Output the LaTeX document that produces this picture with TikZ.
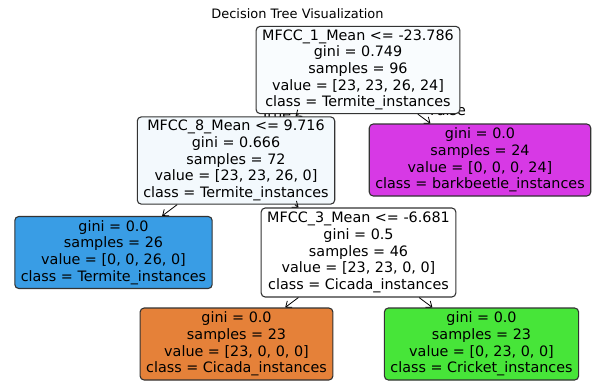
\documentclass[tikz,border=0pt]{standalone}
\usepackage{fontspec}
\setmainfont{DejaVu Sans}
\usetikzlibrary{arrows.meta}
\definecolor{rootfill}{HTML}{F9FCFE}
\definecolor{midfill}{HTML}{F3F9FD}
\definecolor{cicada}{HTML}{E58139}
\definecolor{cricket}{HTML}{47E539}
\definecolor{termite}{HTML}{399DE5}
\definecolor{barkbeetle}{HTML}{D739E5}

\begin{document}
\begin{tikzpicture}[x=1bp,y=-1bp,
	treebox/.style={draw=black!80,line width=1.1bp,rounded corners=4bp,align=center,inner xsep=6bp,font=\fontsize{14.4}{16.7}\selectfont},
	splitbox/.style={treebox,minimum height=87bp},
	leafbox/.style={treebox,minimum height=72bp},
	edgelabel/.style={font=\fontsize{14.4}{16.7}\selectfont},
	arrow/.style={-{Straight Barb[length=5bp,width=8bp]},line width=0.8bp}]
\useasboundingbox (0,0) rectangle (592,381);

\node[font=\fontsize{13}{15}\selectfont] (title) at (297.5,14) {Decision Tree Visualization};

\node[edgelabel] (truelbl) at (276,114) {True};
\node[edgelabel] (falselbl) at (448,110) {False};

\node[splitbox,fill=rootfill] (root) at (358,70) {MFCC\_1\_Mean <= -23.786\\gini = 0.749\\samples = 96\\value = [23, 23, 26, 24]\\class = Termite\_instances};
\node[splitbox,fill=midfill] (mfcc8) at (236,160.5) {MFCC\_8\_Mean <= 9.716\\gini = 0.666\\samples = 72\\value = [23, 23, 26, 0]\\class = Termite\_instances};
\node[leafbox,fill=barkbeetle] (barkbeetle) at (480,160) {gini = 0.0\\samples = 24\\value = [0, 0, 0, 24]\\class = barkbeetle\_instances};
\node[leafbox,fill=termite] (termite) at (113.5,252.5) {gini = 0.0\\samples = 26\\value = [0, 0, 26, 0]\\class = Termite\_instances};
\node[splitbox,fill=white,minimum height=89bp] (mfcc3) at (358.5,252.5) {MFCC\_3\_Mean <= -6.681\\gini = 0.5\\samples = 46\\value = [23, 23, 0, 0]\\class = Cicada\_instances};
\node[leafbox,fill=cicada] (cicada) at (236.5,344) {gini = 0.0\\samples = 23\\value = [23, 0, 0, 0]\\class = Cicada\_instances};
\node[leafbox,fill=cricket] (cricket) at (481.5,344) {gini = 0.0\\samples = 23\\value = [0, 23, 0, 0]\\class = Cricket\_instances};

\draw[arrow] (root) -- (mfcc8);
\draw[arrow] (root) -- (barkbeetle);
\draw[arrow] (mfcc8) -- (termite);
\draw[arrow] (mfcc8) -- (mfcc3);
\draw[arrow] (mfcc3) -- (cicada);
\draw[arrow] (mfcc3) -- (cricket);

\end{tikzpicture}
\end{document}
